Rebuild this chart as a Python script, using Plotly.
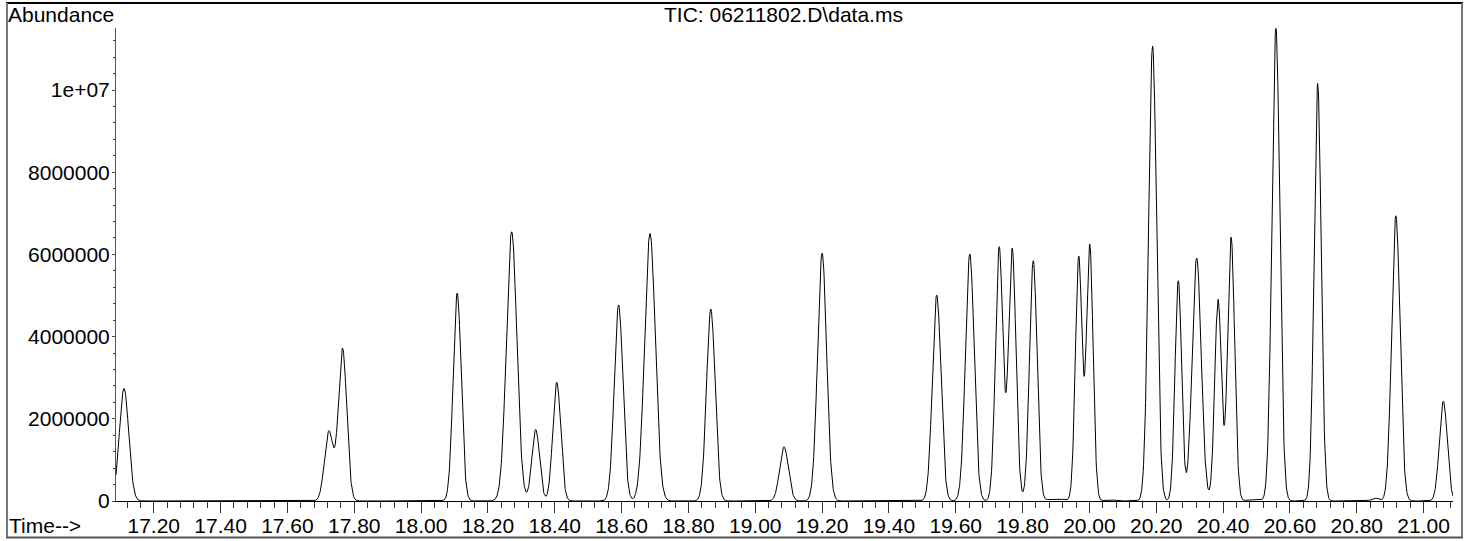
import numpy as np
import plotly.graph_objects as go

# ---- data ----
# retention times (min) of each peak apex
peak_rt = [17.111, 17.724, 17.765, 18.108, 18.271, 18.343, 18.406, 18.591,
           18.685, 18.867, 19.086, 19.200, 19.543, 19.642, 19.730, 19.769,
           19.832, 19.968, 20.001, 20.189, 20.266, 20.321, 20.385, 20.424,
           20.558, 20.683, 20.917, 21.059,
           19.900, 20.060, 20.490, 20.855]
# apex abundance (counts)
peak_abund = [2.74e6, 1.71e6, 3.72e6, 5.06e6, 6.55e6, 1.74e6, 2.89e6, 4.77e6,
              6.51e6, 4.67e6, 1.32e6, 6.03e6, 5.01e6, 6.01e6, 6.19e6, 6.15e6,
              5.85e6, 5.96e6, 6.25e6, 11.07e6, 5.36e6, 5.91e6, 4.91e6, 6.42e6,
              11.50e6, 10.16e6, 6.94e6, 2.43e6,
              0.05e6, 0.03e6, 0.03e6, 0.07e6]
# peak width (sigma, min)
peak_sigma = [0.0140, 0.0130, 0.0125, 0.0120, 0.0156, 0.0115, 0.0118, 0.0130,
              0.0160, 0.0128, 0.0130, 0.0135, 0.0128, 0.0130, 0.0111, 0.0111,
              0.0112, 0.0099, 0.0099, 0.0120, 0.0098, 0.0135, 0.0100, 0.0105,
              0.0118, 0.0106, 0.0125, 0.0118,
              0.0250, 0.0150, 0.0200, 0.0100]

x_range = [17.087, 21.088]
y_range = [0, 11.51e6]
x_tickvals = [17.2, 17.4, 17.6, 17.8, 18.0, 18.2, 18.4, 18.6, 18.8, 19.0,
              19.2, 19.4, 19.6, 19.8, 20.0, 20.2, 20.4, 20.6, 20.8, 21.0]
x_ticktext = ["%.2f" % v for v in x_tickvals]
y_tickvals = [0, 2000000, 4000000, 6000000, 8000000, 10000000]
y_ticktext = ["0", "2000000", "4000000", "6000000", "8000000", "1e+07"]

# ---- build the trace from the peak table ----
rt = np.array(peak_rt)
hh = np.array(peak_abund)
sg = np.array(peak_sigma)
M = np.exp(-0.5 * ((rt[:, None] - rt[None, :]) / sg[None, :]) ** 2)
amp = np.linalg.solve(M, hh)
t = np.arange(x_range[0], x_range[1] + 0.0005, 0.001)
signal = (amp[None, :] * np.exp(-0.5 * ((t[:, None] - rt[None, :]) / sg[None, :]) ** 2)).sum(axis=1)
signal = np.clip(signal, 0, None)

FONT = "Liberation Sans, Arial, sans-serif"

fig = go.Figure()
fig.add_trace(go.Scatter(x=t, y=signal, mode="lines",
                         line=dict(color="black", width=1), showlegend=False,
                         hoverinfo="skip"))

fig.update_layout(
    width=1469, height=541,
    margin=dict(l=116, r=16, t=28, b=40),
    paper_bgcolor="white", plot_bgcolor="white",
    font=dict(family=FONT, size=21, color="black"),
    showlegend=False,
    xaxis=dict(range=x_range, tickvals=x_tickvals, ticktext=x_ticktext,
               automargin=False,
               ticks="outside", ticklen=11, tickwidth=1, tickcolor="#333",
               ticklabelstandoff=-5,
               showline=True, linecolor="black", linewidth=1,
               showgrid=False, zeroline=False,
               tickfont=dict(size=21, family=FONT, color="black"),
               minor=dict(ticks="outside", ticklen=6, dtick=0.04, tick0=17.0,
                          tickcolor="#333", showgrid=False)),
    yaxis=dict(range=y_range, tickvals=y_tickvals, ticktext=y_ticktext,
               automargin=False,
               ticks="outside", ticklen=3, tickwidth=1, tickcolor="#444",
               ticklabelstandoff=-2,
               showline=True, linecolor="#555", linewidth=1,
               showgrid=False, zeroline=False,
               tickfont=dict(size=21, family=FONT, color="black"),
               minor=dict(ticks="outside", ticklen=2, dtick=400000, tick0=0,
                          tickcolor="#444", showgrid=False)),
)

# outer frame
PW, PH = 1337.0, 473.0
def px(xpix):
    return (xpix - 116) / PW
def py(ypix):
    return (501 - ypix) / PH

fig.add_shape(type="line", xref="paper", yref="paper",
              x0=px(6), x1=px(1463), y0=py(3), y1=py(3),
              line=dict(color="black", width=2))
fig.add_shape(type="line", xref="paper", yref="paper",
              x0=px(7), x1=px(7), y0=py(3), y1=py(538),
              line=dict(color="#777", width=2))
fig.add_shape(type="line", xref="paper", yref="paper",
              x0=px(1462), x1=px(1462), y0=py(3), y1=py(538),
              line=dict(color="#777", width=2))
fig.add_shape(type="line", xref="paper", yref="paper",
              x0=px(6), x1=px(1463), y0=py(537.5), y1=py(537.5),
              line=dict(color="#555", width=2))

fig.add_annotation(text="Abundance", xref="paper", yref="paper",
                   x=px(6), y=py(15), xanchor="left", yanchor="middle",
                   showarrow=False, font=dict(size=21, family=FONT, color="black"))
fig.add_annotation(text="TIC: 06211802.D\\data.ms", xref="paper", yref="paper",
                   x=px(783), y=py(15), xanchor="center", yanchor="middle",
                   showarrow=False, font=dict(size=21, family=FONT, color="black"))
fig.add_annotation(text="Time-->", xref="paper", yref="paper",
                   x=px(7), y=py(525), xanchor="left", yanchor="middle",
                   showarrow=False, font=dict(size=21, family=FONT, color="black"))

page_js = (
    "var s=document.createElement('style');"
    "s.innerHTML='html,body{margin:0!important;padding:0!important;"
    "overflow:hidden!important;width:1469px;height:541px;}';"
    "document.head.appendChild(s);"
)
fig.write_html("out.html", config={"displayModeBar": False},
               post_script=page_js)
